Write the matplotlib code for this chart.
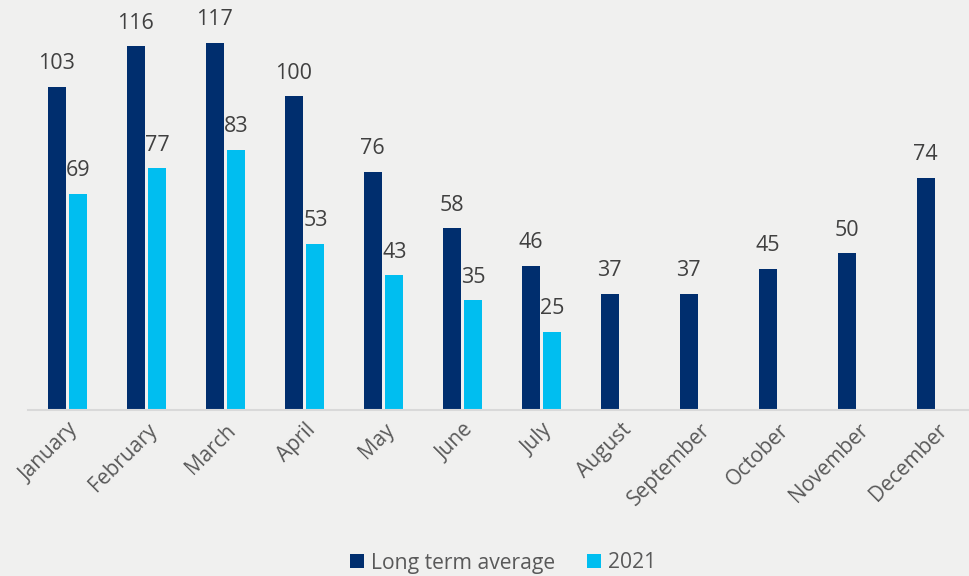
import matplotlib
matplotlib.use("Agg")
import matplotlib.pyplot as plt
import numpy as np

months = ["January", "February", "March", "April", "May", "June", "July",
          "August", "September", "October", "November", "December"]
long_term_avg = [103, 116, 117, 100, 76, 58, 46, 37, 37, 45, 50, 74]
values_2021 = [69, 77, 83, 53, 43, 35, 25]

NAVY = "#002E6E"
CYAN = "#00BEF0"
BG = "#F0F0EF"

plt.rcParams["font.family"] = ["Open Sans", "DejaVu Sans"]

W, H = 969, 576
fig = plt.figure(figsize=(W / 100, H / 100), dpi=100, facecolor=BG)
left, right, bottom, top = 28, 976, 410, 0
ax = fig.add_axes([left / W, 1 - bottom / H, (right - left) / W, (bottom - top) / H])
ax.set_facecolor(BG)

x = np.arange(len(months))
bw = 0.228
off = 0.139
b1 = ax.bar(x - off, long_term_avg, bw, color=NAVY, label="Long term average")
x2 = x[:len(values_2021)]
b2 = ax.bar(x2 + off, values_2021, bw, color=CYAN, label="2021")

for xi, v in zip(x - off, long_term_avg):
    ax.annotate(f"{v}", (xi, v), xytext=(0, 9), textcoords="offset points",
                ha="center", va="bottom", fontsize=15.5, color="#404040")
for xi, v in zip(x2 + off, values_2021):
    ax.annotate(f"{v}", (xi, v), xytext=(0, 9), textcoords="offset points",
                ha="center", va="bottom", fontsize=15.5, color="#404040")

ax.set_xlim(-0.5, len(months) - 0.5)
ax.set_ylim(0, 130.7)
ax.set_yticks([])
ax.set_xticks(x)
ax.set_xticklabels(months, rotation=45, ha="right", rotation_mode="anchor",
                   fontsize=15, color="#595959")
ax.tick_params(axis="x", length=0, pad=7)
for s in ["top", "right", "left"]:
    ax.spines[s].set_visible(False)
ax.spines["bottom"].set_color("#D9D9D9")
ax.spines["bottom"].set_linewidth(1.5)

fig.legend(handles=[b1, b2], loc="center", bbox_to_anchor=(503 / W, 1 - 563 / H),
           ncol=2, frameon=False, fontsize=15.2, handlelength=0.65, handleheight=0.65,
           handletextpad=0.35, columnspacing=1.5, labelcolor="#595959")

fig.savefig("out.png", dpi=100, facecolor=BG)
